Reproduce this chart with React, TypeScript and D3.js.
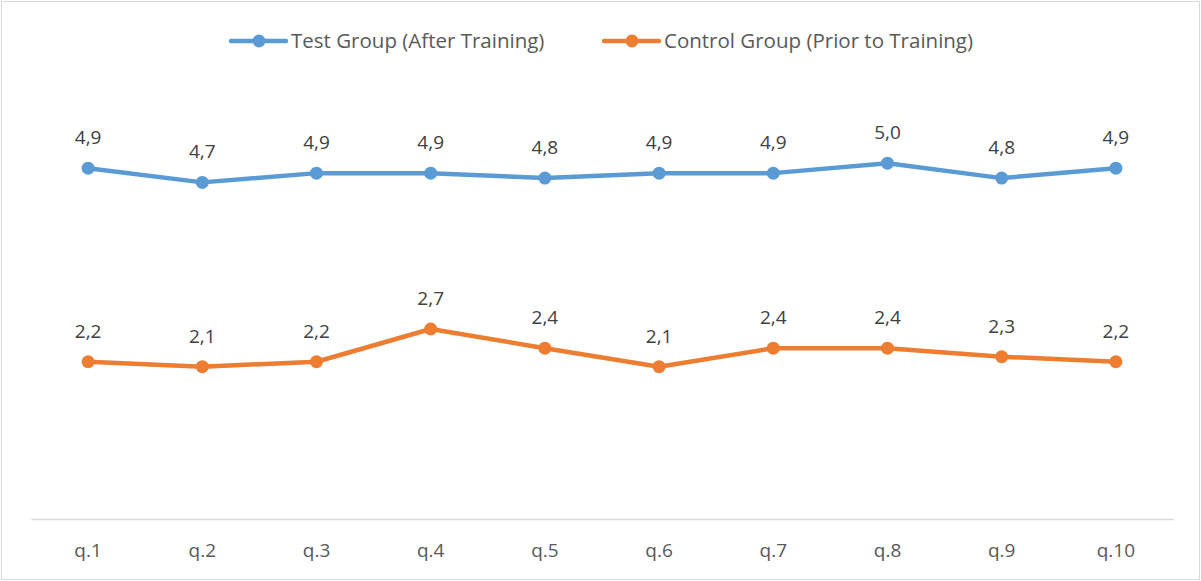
import React, { useRef, useEffect } from 'react';
import * as d3 from 'd3';

const categories = ['q.1', 'q.2', 'q.3', 'q.4', 'q.5', 'q.6', 'q.7', 'q.8', 'q.9', 'q.10'];
const testGroup = [4.93, 4.73, 4.86, 4.86, 4.79, 4.86, 4.86, 5.0, 4.79, 4.93];
const controlGroup = [2.21, 2.14, 2.21, 2.67, 2.4, 2.14, 2.4, 2.4, 2.28, 2.21];
const seriesNames = ['Test Group (After Training)', 'Control Group (Prior to Training)'];
const seriesColors = ['#5b9bd5', '#ed7d31'];

const W = 1201;
const H = 581;
const FONT = "'Open Sans', 'Noto Sans', sans-serif";

const App = () => {
  const ref = useRef<SVGSVGElement>(null);

  useEffect(() => {
    const svg = d3.select(ref.current);
    svg.selectAll('*').remove();

    const margin = { top: 92, right: 28, bottom: 62, left: 31 };
    const locale = d3.formatLocale({ decimal: ',', thousands: '.', grouping: [3], currency: ['', ''] });
    const fmt = locale.format('.1f');

    // chart border
    svg.append('rect')
      .attr('x', 1.5).attr('y', 1.5)
      .attr('width', W - 3).attr('height', H - 3)
      .attr('fill', '#fff')
      .attr('stroke', '#d9d9d9');

    const x = d3.scaleBand().domain(categories).range([margin.left, W - margin.right]);
    const y = d3.scaleLinear().domain([0, 6]).range([H - margin.bottom, margin.top]);

    // x axis
    const xAxis = svg.append('g')
      .attr('transform', `translate(0,${H - margin.bottom})`)
      .call(d3.axisBottom(x).tickSize(0));
    xAxis.select('.domain').attr('stroke', '#d9d9d9').attr('stroke-width', 1.5);
    xAxis.selectAll('text')
      .attr('y', 38)
      .attr('dy', null)
      .attr('fill', '#595959')
      .style('font-family', FONT)
      .style('font-size', '19px');

    const cx = (d: string) => (x(d) as number) + x.bandwidth() / 2;
    const line = d3.line<number>()
      .x((d, i) => cx(categories[i]))
      .y((d) => y(d));

    [testGroup, controlGroup].forEach((vals, s) => {
      const g = svg.append('g');
      g.append('path')
        .datum(vals)
        .attr('d', line)
        .attr('fill', 'none')
        .attr('stroke', seriesColors[s])
        .attr('stroke-width', 4.5)
        .attr('stroke-linejoin', 'round')
        .attr('stroke-linecap', 'round');

      g.selectAll('circle')
        .data(vals)
        .enter()
        .append('circle')
        .attr('cx', (d, i) => cx(categories[i]))
        .attr('cy', (d) => y(d))
        .attr('r', 6.5)
        .attr('fill', seriesColors[s]);

      g.selectAll('text')
        .data(vals)
        .enter()
        .append('text')
        .attr('x', (d, i) => cx(categories[i]))
        .attr('y', (d) => y(d) - 24)
        .attr('text-anchor', 'middle')
        .attr('fill', '#404040')
        .style('font-family', FONT)
        .style('font-size', '19px')
        .text((d) => fmt(d));
    });

    // legend
    const legendX = [231, 604];
    seriesNames.forEach((name, s) => {
      const lg = svg.append('g').attr('transform', `translate(${legendX[s]},41)`);
      lg.append('line')
        .attr('x1', 0).attr('x2', 55)
        .attr('stroke', seriesColors[s])
        .attr('stroke-width', 4.5)
        .attr('stroke-linecap', 'round');
      lg.append('circle').attr('cx', 28).attr('r', 6.5).attr('fill', seriesColors[s]);
      lg.append('text')
        .attr('x', 60)
        .attr('y', 7)
        .attr('fill', '#595959')
        .style('font-family', FONT)
        .style('font-size', '20.5px')
        .text(name);
    });
  }, []);

  return (
    <div style={{ position: 'absolute', left: 0, top: 0 }}>
      <svg ref={ref} width={W} height={H} />
    </div>
  );
};

export default App;
